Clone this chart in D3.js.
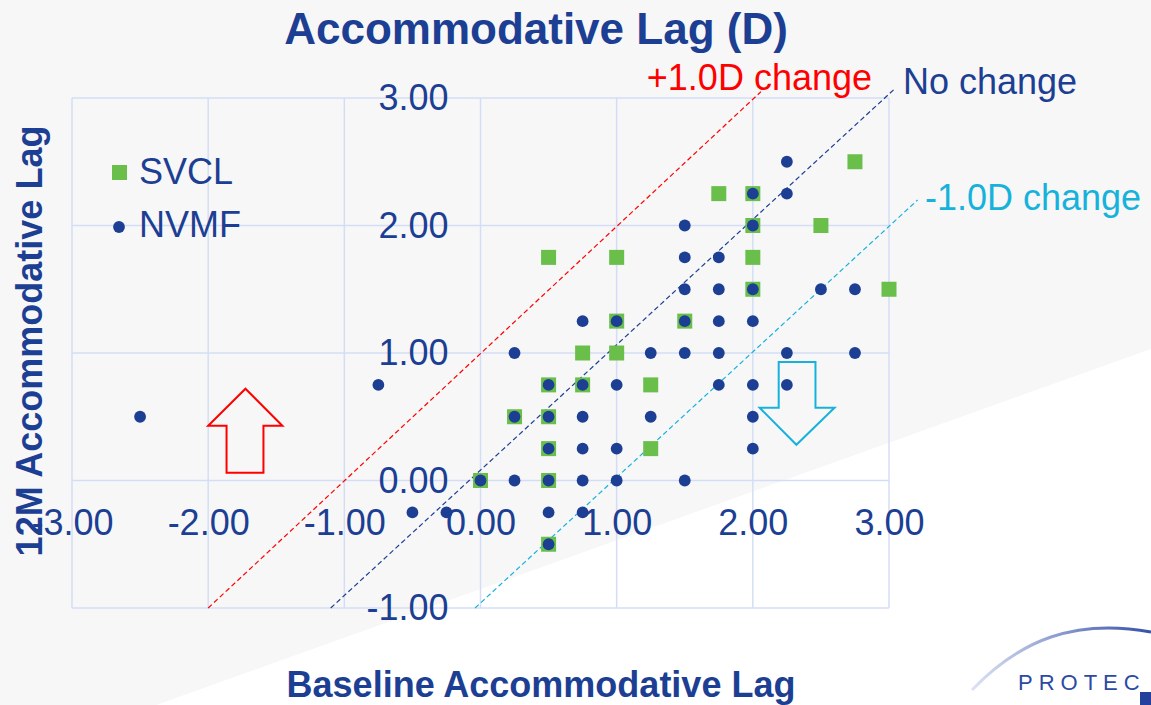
<!DOCTYPE html>
<html>
<head>
<meta charset="utf-8">
<script src="https://cdn.jsdelivr.net/npm/d3@7"></script>
<style>
  html, body { margin: 0; padding: 0; background: #f7f7f7; }
  svg { display: block; font-family: "Liberation Sans", Arial, sans-serif; }
  .grid line { stroke: #d3def6; stroke-width: 1.5; }
  .axis text { font-size: 36px; fill: #1c3f94; }
</style>
</head>
<body>
<script>
// series data (baseline lag, 12 month lag) in D
const svclBaseline = [0.5, 1, 1, 1.5, 0.75, 1, 0.5, 0.75, 1.25, 0.25, 0.5, 0.5, 1.25, 0, 0.5, 0.5, 2.75, 1.75, 2, 2, 2.5, 2, 2, 3];
const svcl12m      = [1.75, 1.75, 1.25, 1.25, 1, 1, 0.75, 0.75, 0.75, 0.5, 0.5, 0.25, 0.25, 0, 0, -0.5, 2.5, 2.25, 2.25, 2, 2, 1.75, 1.5, 1.5];

const nvmfBaseline = [1.5, 1.5, 1.5, 0.75, 1, 1.5, 0.25, 1.25, 1.5, 0.5, 0.75, 1, 0.25, 0.5, 0.75, 1.25, 0.5, 0.75, 1,
  0, 0.25, 0.5, 0.75, 1, 1.5, 0.5, 0.75, 0.5, 2.25, 2, 2.25, 2, 1.75, 1.75, 2, 2.5, 2.75, 1.75, 2, 1.75, 2.25, 2.75,
  1.75, 2, 2.25, 2, 2, -2.5, -0.75, -0.5, -0.25];
const nvmf12m = [2, 1.75, 1.5, 1.25, 1.25, 1.25, 1, 1, 1, 0.75, 0.75, 0.75, 0.5, 0.5, 0.5, 0.5, 0.25, 0.25, 0.25,
  0, 0, 0, 0, 0, 0, -0.25, -0.25, -0.5, 2.5, 2.25, 2.25, 2, 1.75, 1.5, 1.5, 1.5, 1.5, 1.25, 1.25, 1, 1, 1,
  0.75, 0.75, 0.75, 0.5, 0.25, 0.5, 0.75, -0.25, -0.25];

const xTicks = [-3, -2, -1, 0, 1, 2, 3];
const yTicks = [-1, 0, 1, 2, 3];

// reference lines: label, start [x, y], end [x, y]
const refLabels = ["+1.0D change", "No change", "-1.0D change"];
const refStart = [[-2, -1], [-1.1, -1], [-0.04, -1]];
const refEnd = [[2.06, 3.05], [3.04, 3.07], [3.21, 2.2]];
const refColors = ["#ff0000", "#1c3f94", "#17b2dc"];

const width = 1151, height = 705;
const blue = "#1c3f94", green = "#6abf4b";

const svg = d3.select("body").append("svg")
  .attr("width", width)
  .attr("height", height);

// background with white wedge bottom right
svg.append("rect").attr("width", width).attr("height", height).attr("fill", "#f7f7f7");
svg.append("polygon")
  .attr("points", "0,761 1151,349 1151,705 0,705")
  .attr("fill", "#ffffff");

const xScale = d3.scaleLinear().domain([-3, 3]).range([72, 889]);
const yScale = d3.scaleLinear().domain([-1, 3]).range([608, 98]);

// gridlines
const grid = svg.append("g").attr("class", "grid");
grid.selectAll(".gx").data(xTicks).enter().append("line")
  .attr("x1", (d) => xScale(d)).attr("x2", (d) => xScale(d))
  .attr("y1", yScale(-1)).attr("y2", yScale(3));
grid.selectAll(".gy").data(yTicks).enter().append("line")
  .attr("x1", xScale(-3)).attr("x2", xScale(3))
  .attr("y1", (d) => yScale(d)).attr("y2", (d) => yScale(d));

// reference lines
refLabels.forEach((name, i) => {
  svg.append("line")
    .attr("x1", xScale(refStart[i][0])).attr("y1", yScale(refStart[i][1]))
    .attr("x2", xScale(refEnd[i][0])).attr("y2", yScale(refEnd[i][1]))
    .attr("stroke", refColors[i])
    .attr("stroke-width", 1.2)
    .attr("stroke-dasharray", "5,3");
});

// arrows (outline only)
const upArrow = [[-1.865, 0.06], [-1.865, 0.43], [-2.0, 0.43], [-1.726, 0.72], [-1.455, 0.43], [-1.594, 0.43], [-1.594, 0.06]];
const downArrow = [[2.19, 0.93], [2.19, 0.57], [2.05, 0.57], [2.32, 0.28], [2.6, 0.57], [2.46, 0.57], [2.46, 0.93]];
const arrowLine = d3.line().x((d) => xScale(d[0])).y((d) => yScale(d[1]));
svg.append("path").datum(upArrow)
  .attr("d", (d) => arrowLine(d) + "Z")
  .attr("fill", "none").attr("stroke", "#ff0000").attr("stroke-width", 2);
svg.append("path").datum(downArrow)
  .attr("d", (d) => arrowLine(d) + "Z")
  .attr("fill", "none").attr("stroke", "#17b2dc").attr("stroke-width", 2);

// SVCL squares
svg.selectAll(".svcl").data(svclBaseline).enter().append("rect")
  .attr("class", "svcl")
  .attr("x", (d) => xScale(d) - 7.5)
  .attr("y", (d, i) => yScale(svcl12m[i]) - 7.5)
  .attr("width", 15).attr("height", 15)
  .attr("fill", green);

// NVMF dots
svg.selectAll(".nvmf").data(nvmfBaseline).enter().append("circle")
  .attr("class", "nvmf")
  .attr("cx", (d) => xScale(d))
  .attr("cy", (d, i) => yScale(nvmf12m[i]))
  .attr("r", 5.9)
  .attr("fill", blue);

// axes through the origin
const xAxis = d3.axisBottom(xScale).tickValues(xTicks).tickSize(0).tickPadding(29).tickFormat(d3.format(".2f"));
const yAxis = d3.axisLeft(yScale).tickValues(yTicks).tickSize(0).tickPadding(32).tickFormat(d3.format(".2f"));

svg.append("g").attr("class", "axis")
  .attr("transform", "translate(0," + yScale(0) + ")")
  .call(xAxis)
  .call((g) => g.select(".domain").remove())
  .selectAll("text").attr("font-family", null).attr("font-size", null).text((d) => d3.format(".2f")(d).replace("−", "-"));

svg.append("g").attr("class", "axis")
  .attr("transform", "translate(" + xScale(0) + ",0)")
  .call(yAxis)
  .call((g) => g.select(".domain").remove())
  .selectAll("text").attr("font-family", null).attr("font-size", null).text((d) => d3.format(".2f")(d).replace("−", "-"));

// reference line labels
svg.append("text").attr("x", 872).attr("y", 90).attr("text-anchor", "end")
  .style("font-size", "36px").style("fill", refColors[0]).text(refLabels[0]);
svg.append("text").attr("x", 903).attr("y", 94)
  .style("font-size", "36px").style("fill", refColors[1]).text(refLabels[1]);
svg.append("text").attr("x", 925).attr("y", 210)
  .style("font-size", "36px").style("fill", refColors[2]).text(refLabels[2]);

// legend
svg.append("rect").attr("x", 112).attr("y", 165).attr("width", 15).attr("height", 15).attr("fill", green);
svg.append("text").attr("x", 139).attr("y", 184).style("font-size", "36px").style("fill", blue).text("SVCL");
svg.append("circle").attr("cx", 119).attr("cy", 227).attr("r", 5.9).attr("fill", blue);
svg.append("text").attr("x", 139).attr("y", 237).style("font-size", "36px").style("fill", blue).text("NVMF");

// titles
svg.append("text")
  .attr("x", 536).attr("y", 44)
  .style("text-anchor", "middle")
  .style("font-size", "44px").style("font-weight", "bold").style("fill", blue)
  .text("Accommodative Lag (D)");

svg.append("text")
  .attr("x", 541).attr("y", 697)
  .style("text-anchor", "middle")
  .style("font-size", "36px").style("font-weight", "bold").style("fill", blue)
  .text("Baseline Accommodative Lag");

svg.append("text")
  .attr("transform", "translate(42,341) rotate(-90)")
  .style("text-anchor", "middle")
  .style("font-size", "36px").style("font-weight", "bold").style("fill", blue)
  .text("12M Accommodative Lag");

// logo fragment, bottom right
const grad = svg.append("defs").append("linearGradient").attr("id", "swoosh");
grad.append("stop").attr("offset", "0%").attr("stop-color", "#dde3f3");
grad.append("stop").attr("offset", "100%").attr("stop-color", "#3550a8");
svg.append("path")
  .attr("d", "M972,690 C1020,640 1075,618 1151,632")
  .attr("fill", "none").attr("stroke", "url(#swoosh)").attr("stroke-width", 3);
svg.append("text").attr("x", 1018).attr("y", 690)
  .style("font-size", "22px").style("letter-spacing", "6px").style("fill", "#2c4aa3")
  .text("PROTEC");
svg.append("rect").attr("x", 1140).attr("y", 692).attr("width", 11).attr("height", 13).attr("fill", "#23409c");
</script>
</body>
</html>
